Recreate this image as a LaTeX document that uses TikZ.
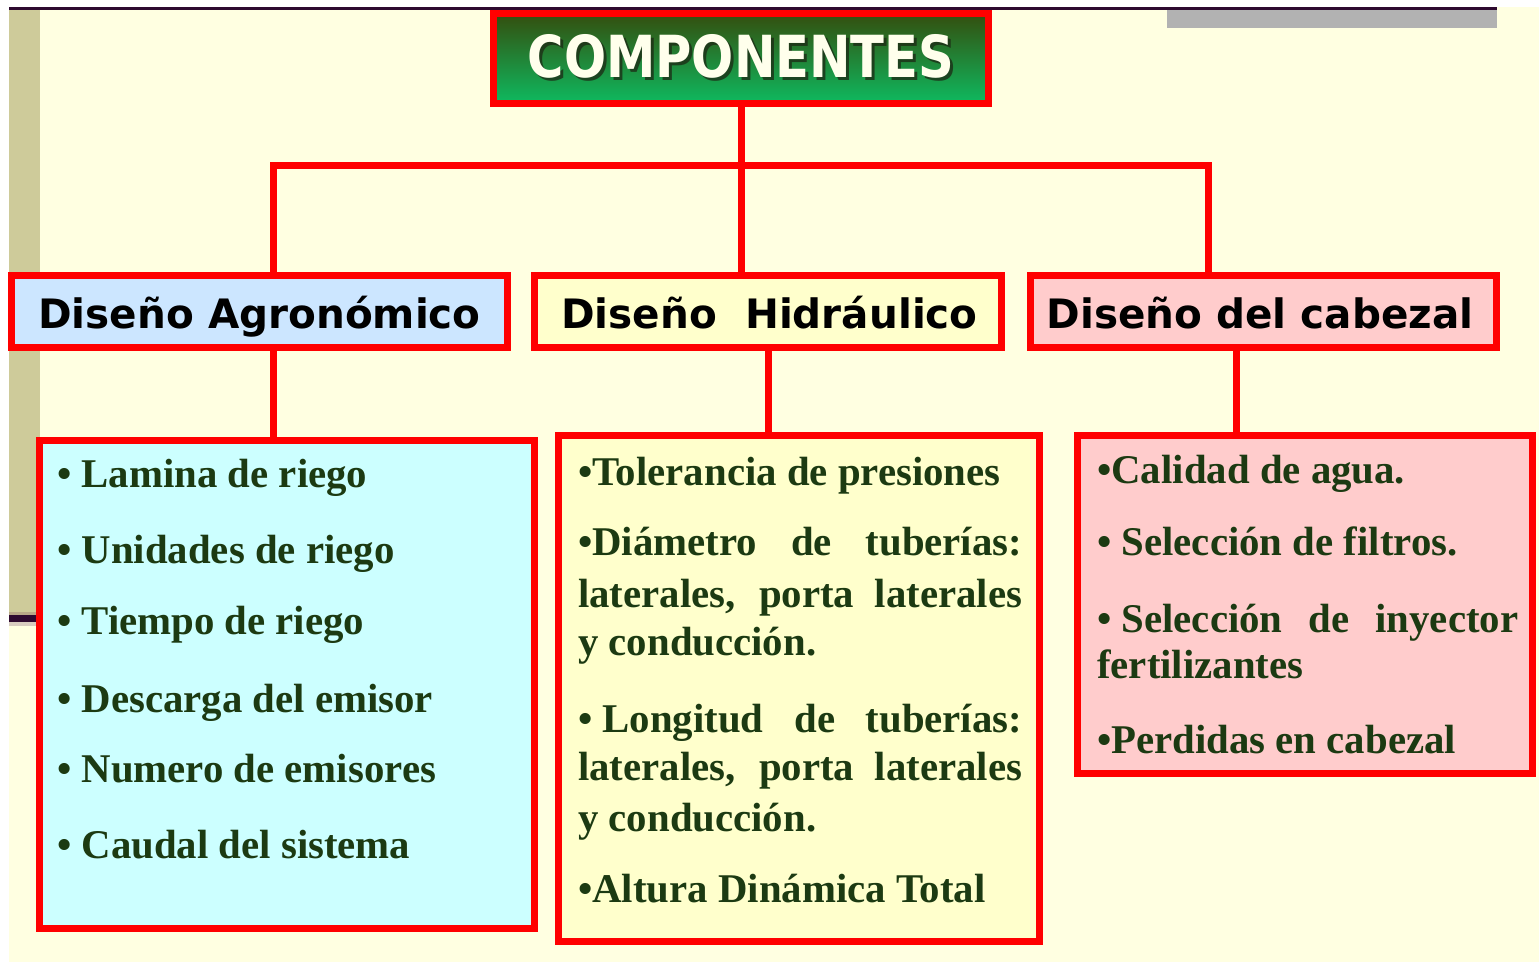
\documentclass[tikz,border=0pt]{standalone}
\usepackage{fontspec}
\usepackage{graphicx}
\newfontfamily\hdrfont{DejaVu Sans}
\newfontfamily\itmfont{Liberation Serif}
\definecolor{cream}{RGB}{255,255,225}
\definecolor{darkline}{RGB}{46,10,48}
\definecolor{olivebar}{RGB}{206,203,154}
\definecolor{tanline}{RGB}{184,168,136}
\definecolor{paleline}{RGB}{216,204,192}
\definecolor{graybar}{RGB}{178,178,178}
\definecolor{boxred}{RGB}{255,0,0}
\definecolor{hdrblue}{RGB}{204,230,255}
\definecolor{hdryellow}{RGB}{255,255,204}
\definecolor{hdrpink}{RGB}{255,204,204}
\definecolor{lacyan}{RGB}{204,255,255}
\definecolor{itmgreen}{RGB}{28,58,18}
\definecolor{ttltop}{RGB}{52,78,14}
\definecolor{ttlmid}{RGB}{30,136,60}
\definecolor{ttlbot}{RGB}{14,186,96}
\definecolor{ttltext}{RGB}{255,255,236}
\definecolor{ttlshade}{RGB}{28,40,20}
\begin{document}
\begin{tikzpicture}[x=1pt,y=-1pt,
  redbox/.style={draw=boxred,line width=7pt,inner sep=0pt,outer sep=0pt},
  conn/.style={draw=boxred,line width=7pt},
  ttlfont/.style={anchor=base,inner sep=0pt,font=\hdrfont\bfseries\fontsize{58}{58}\selectfont},
  hdr/.style={anchor=base,inner sep=0pt,font=\hdrfont\bfseries\fontsize{40.5}{40.5}\selectfont,text=black},
  itm/.style={anchor=base west,inner sep=0pt,font=\itmfont\bfseries\fontsize{40.8}{40.8}\selectfont,text=itmgreen}]
\useasboundingbox (0,0) rectangle (1539,962);
% background
\fill[white] (0,0) rectangle (1539,962);
\fill[cream] (9,7) rectangle (1539,962);
\fill[darkline] (9,7) rectangle (1497,10);
\fill[olivebar] (9,10) rectangle (40,612);
\fill[tanline] (9,612) rectangle (40,615);
\fill[darkline] (9,615) rectangle (40,622);
\fill[paleline] (9,622) rectangle (40,626);
\fill[graybar] (1167,10) rectangle (1497,28);
% title
\node[redbox,minimum width=495pt,minimum height=90pt,top color=ttltop,middle color=ttlmid,bottom color=ttlbot] (ttl) at (741,58.5) {};
\node[ttlfont,text=ttlshade,opacity=0.75] (ttlsh) at (744,80) {\scalebox{0.855}[1]{COMPONENTES}};
\node[ttlfont,text=ttltext] (ttltx) at (741,77) {\scalebox{0.855}[1]{COMPONENTES}};
% level 2
\node[redbox,fill=hdrblue,minimum width=496pt,minimum height=72pt] (agr) at (259.5,311.5) {};
\node[redbox,fill=hdryellow,minimum width=467pt,minimum height=72pt] (hid) at (768,311.5) {};
\node[redbox,fill=hdrpink,minimum width=466pt,minimum height=72pt] (cab) at (1263.5,311.5) {};
\node[hdr] (agrt) at (259.5,328) {Diseño Agronómico};
\node[hdr] (hidt) at (769.5,328) {Diseño~ Hidráulico};
\node[hdr] (cabt) at (1260,328) {Diseño del cabezal};
% level 3
\node[redbox,fill=lacyan,minimum width=495pt,minimum height=488pt] (lagr) at (287,684.5) {};
\node[redbox,fill=hdryellow,minimum width=481pt,minimum height=506pt] (lhid) at (799,688.5) {};
\node[redbox,fill=hdrpink,minimum width=455pt,minimum height=338pt] (lcab) at (1305,604.5) {};
% connectors
\coordinate (bus) at (741,165.5);
\coordinate (agrup) at ([xshift=13.5pt]agr.north);
\coordinate (cabup) at ([xshift=-55pt]cab.north);
\coordinate (agrdrop) at ([xshift=13.5pt]agr.south);
\coordinate (cabdrop) at ([xshift=-27.5pt]cab.south);
\draw[conn] (ttl.south) -- (ttl.south |- hid.north);
\draw[conn] (agrup) |- (bus) -| (cabup);
\draw[conn] (agrdrop) -- (agrdrop |- lagr.north);
\draw[conn] (hid.south) -- (hid.south |- lhid.north);
\draw[conn] (cabdrop) -- (cabdrop |- lcab.north);
% left list
\node[itm] (a1) at (57,487) {• Lamina de riego};
\node[itm] (a2) at (57,563) {• Unidades de riego};
\node[itm] (a3) at (57,634) {• Tiempo de riego};
\node[itm] (a4) at (57,712) {• Descarga del emisor};
\node[itm] (a5) at (57,782) {• Numero de emisores};
\node[itm] (a6) at (57,858) {• Caudal del sistema};
% middle list
\node[itm] (h1) at (578,485) {•Tolerancia de presiones};
\node[itm] (h2) at (578,555) {\makebox[444pt][s]{•Diámetro de tuberías:}};
\node[itm] (h3) at (578,607) {\makebox[444pt][s]{laterales, porta laterales}};
\node[itm] (h4) at (578,655) {y conducción.};
\node[itm] (h5) at (578,732) {\makebox[444pt][s]{\mbox{•\ }Longitud de tuberías:}};
\node[itm] (h6) at (578,780) {\makebox[444pt][s]{laterales, porta laterales}};
\node[itm] (h7) at (578,831) {y conducción.};
\node[itm] (h8) at (578,902) {•Altura Dinámica Total};
% right list
\node[itm] (c1) at (1097,483) {•Calidad de agua.};
\node[itm] (c2) at (1097,555) {• Selección de filtros.};
\node[itm] (c3) at (1097,632) {\makebox[421pt][s]{\mbox{•\ }Selección de inyector}};
\node[itm] (c4) at (1097,678) {fertilizantes};
\node[itm] (c5) at (1097,753) {•Perdidas en cabezal};
\end{tikzpicture}
\end{document}
